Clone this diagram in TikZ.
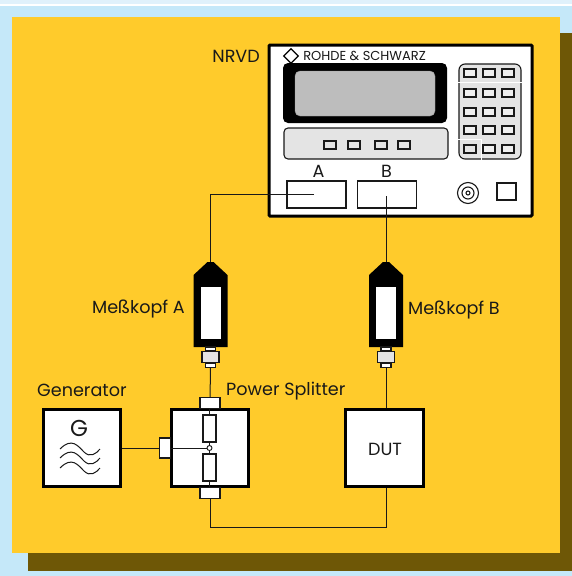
\documentclass[tikz,border=0pt]{standalone}
\usepackage{fontspec}
\setmainfont{Poppins}
\usepackage{tikz}
\usetikzlibrary{positioning, shapes.geometric}
\definecolor{panelyellow}{HTML}{FFCB2B}
\definecolor{panelshadow}{HTML}{6E5706}
\definecolor{skyblue}{HTML}{C5E8F9}
\definecolor{paleblue}{HTML}{E0F1FB}
\definecolor{keygray}{HTML}{E4E4E4}
\definecolor{lcdgray}{HTML}{BDBDBD}
\tikzset{
  % Instrument front
  keybtn/.style={
    rectangle, draw=black!90, fill=keygray, line width=1.1pt,
    minimum width=12pt, minimum height=8pt, inner sep=0pt
  },
  inputbox/.style={
    rectangle, draw=black!90, fill=white, line width=1.1pt,
    minimum width=59pt, minimum height=27pt, inner sep=0pt
  },
  % Signal path
  unitbox/.style={
    rectangle, draw=black, fill=white, line width=3pt,
    minimum width=77pt, minimum height=77pt, inner sep=0pt
  },
  portbox/.style={
    rectangle, draw=black!90, fill=white, line width=1.1pt,
    inner sep=0pt
  },
  resbox/.style={
    rectangle, draw=black!90, fill=white, line width=1.1pt,
    minimum width=13pt, minimum height=27pt, inner sep=0pt
  },
  wire/.style={draw=black!90, line width=1pt},
  txt/.style={font=\fontsize{17.6}{19}\selectfont, text=black!90, inner sep=0pt}
}
\begin{document}
\begin{tikzpicture}[x=1pt, y=-1pt]
  \useasboundingbox (0,0) rectangle (572,576);

  % Background
  \fill[skyblue] (0,0) rectangle (572,576);
  \fill[paleblue] (0,0) rectangle (572,4);
  \fill[white] (0,4) rectangle (572,6);
  \fill[panelshadow] (28,33) rectangle (572,571);
  \fill[panelyellow] (12,17) rectangle (560,553);

  % Instrument
  \node[rectangle, draw=black, fill=white, line width=3pt, rounded corners=1pt,
    minimum width=263pt, minimum height=171pt, inner sep=0pt] (nrvd) at (400.5,130.5) {};
  \node[txt, anchor=east] (nrvdlabel) at (260,56) {NRVD};
  \node[diamond, draw=black, line width=1.1pt, minimum size=15pt, inner sep=0pt, aspect=1.25] (logo) at (291,56) {};
  \node[txt, font=\fontsize{13}{15}\selectfont, right=4pt of logo] (brand) {ROHDE \& SCHWARZ};

  \fill[black, rounded corners=5pt] (283,63) rectangle (447,123);
  \draw[lcdgray!80!black, fill=lcdgray, rounded corners=5pt] (295,71) rectangle (435,116);
  \draw[black!90, fill=keygray, line width=1.1pt, rounded corners=4pt] (284,128) rectangle (448,159);
  \foreach \bx in {330,354,381,404}
    \node[keybtn] at (\bx,145) {};

  % Keypad
  \draw[black!90, fill=keygray, line width=1.1pt, rounded corners=6pt] (459,64) rectangle (521,159);
  \draw[white, line width=1pt] (458,82) -- (522,82);
  \draw[white, line width=1pt] (458,139) -- (481,139) -- (481,160);
  \foreach \ky in {73,93,112,130,149}
    \foreach \kx in {470,489,508}
      \node[keybtn, fill=white!40!keygray] at (\kx,\ky) {};
  \node[keybtn] at (470,149) {};

  \node[inputbox] (inA) at (316.5,194.5) {};
  \node[inputbox, right=10pt of inA] (inB) {};
  \node[txt, above=3pt of inA.north, xshift=2pt] (labA) {A};
  \node[txt, above=3pt of inB.north] (labB) {B};
  \coordinate (endA) at (314,194);
  \coordinate (endB) at (386,196);

  \node[circle, draw=black!90, line width=1.1pt, minimum size=21pt, inner sep=0pt] (jack) at (468,193) {};
  \node[circle, draw=black!90, line width=1.1pt, minimum size=12pt, inner sep=0pt] at (468,193) {};
  \node[circle, draw=black!90, line width=1.1pt, minimum size=4pt, inner sep=0pt] at (468,193) {};
  \node[rectangle, draw=black!90, line width=1.1pt, minimum width=19pt, minimum height=17pt, inner sep=0pt] (socket) at (506.5,191.5) {};

  % Probes
  \foreach \px/\pn in {210.5/A,386/B} {
    \fill[black] (\px-3,262) -- (\px+3,262) -- (\px+17,275) -- (\px+17,347)
      -- (\px-17,347) -- (\px-17,275) -- cycle;
    \fill[white] (\px-10,287) rectangle (\px+10,338.5);
    \coordinate (tip\pn) at (\px,262);
    \node[portbox, minimum width=10pt, minimum height=4pt] (neck\pn) at (\px,349) {};
    \node[portbox, fill=keygray, minimum width=17pt, minimum height=11pt, line width=1.2pt] (head\pn) at (\px,357) {};
    \node[portbox, minimum width=10pt, minimum height=3.5pt, below=0pt of head\pn] (cap\pn) {};
  }
  \node[txt, anchor=east] (probeA) at (185,309) {Meßkopf A};
  \node[txt, anchor=west] (probeB) at (408,310) {Meßkopf B};

  % Generator and splitter
  \node[unitbox] (gen) at (81.5,448) {};
  \node[txt, anchor=west] (genlabel) at (37,390) {Generator};
  \node[txt, font=\fontsize{23}{25}\selectfont] (glyph) at (79,428) {G};
  \foreach \wy in {0,9,19}
    \draw[wire] (60,449+\wy) .. controls (72,437+\wy) and (78,446+\wy) .. (84,452+\wy)
      .. controls (90,458+\wy) and (96,454+\wy) .. (100,449+\wy);

  \node[unitbox] (split) at (210,448) {};
  \node[txt, anchor=west] (splitlabel) at (226,391) {Power Splitter};
  \node[portbox, minimum width=20pt, minimum height=11pt, above=-1pt of split.north] (pTop) {};
  \node[portbox, minimum width=20pt, minimum height=11pt, below=-1pt of split.south] (pBot) {};
  \node[portbox, minimum width=11pt, minimum height=20pt, left=-1pt of split.west] (pIn) {};
  \node[resbox] (r1) at (209.5,428.5) {};
  \node[resbox] (r2) at (209.5,467.5) {};
  \node[circle, draw=black!90, line width=0.9pt, minimum size=5pt, inner sep=0pt] (tee) at (209.5,448) {};

  \node[unitbox, minimum width=78pt] (dut) at (384.5,448) {};
  \node[txt] (dutlabel) at (385,449) {DUT};

  % Wiring
  \draw[wire] (endA) -| (tipA);
  \draw[wire] (endB) -- (tipB);
  \draw[wire] (capA) -- (pTop);
  \draw[wire] (capB) -- (capB |- dut.north);
  \draw[wire] (gen) -- (pIn);
  \draw[wire] (split.west) -- (tee);
  \draw[wire] (split.north -| r1) -- (r1);
  \draw[wire] (r1) -- (tee);
  \draw[wire] (tee) -- (r2);
  \draw[wire] (r2) -- (split.south -| r2);
  \coordinate (bend) at (210,527);
  \draw[wire] (pBot) |- (bend -| capB) -- (capB |- dut.south);

\end{tikzpicture}
\end{document}
